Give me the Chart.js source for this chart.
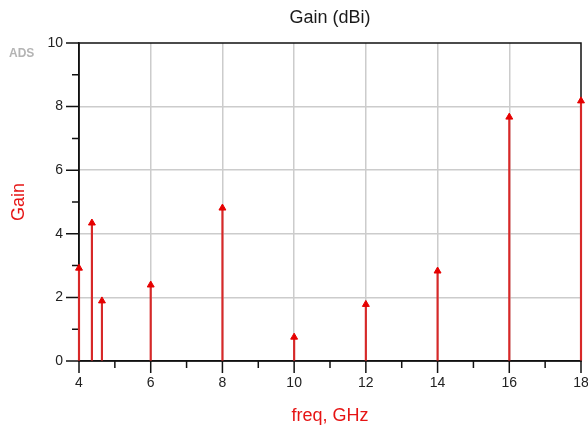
<!DOCTYPE html>
<html>
<head>
<meta charset="utf-8">
<script src="https://cdn.jsdelivr.net/npm/chart.js@4/dist/chart.umd.min.js"></script>
<style>
  html, body { margin: 0; padding: 0; background: #ffffff; }
  #wrap { width: 588px; height: 432px; }
</style>
</head>
<body>
<div id="wrap"><canvas id="c" width="588" height="432"></canvas></div>
<script>
const freqs = [4.0, 4.36, 4.64, 6, 8, 10, 12, 14, 16, 18];
const gains = [2.92, 4.34, 1.89, 2.39, 4.81, 0.75, 1.78, 2.83, 7.67, 8.18];
const xTickLabels = [4, 6, 8, 10, 12, 14, 16, 18];
const yTickLabels = [0, 2, 4, 6, 8, 10];
const chartTitle = 'Gain (dBi)';
const xTitle = 'freq, GHz';
const yTitle = 'Gain';
const watermark = 'ADS';

const FONT = '"Liberation Sans", Arial, sans-serif';
const RED = 'rgb(230,0,0)';
const STEM = 'rgb(215,40,40)';

const points = freqs.map((f, i) => ({ x: f, y: gains[i] }));

const isMajor = (v, list) => list.some(t => Math.abs(t - v) < 1e-6);

const decor = {
  id: 'decor',
  beforeDatasetsDraw(chart) {
    const { ctx, chartArea: a, scales: { x, y } } = chart;
    ctx.save();
    ctx.strokeStyle = '#111';
    ctx.lineWidth = 1.5;
    // frame
    ctx.strokeRect(a.left, a.top, a.right - a.left, a.bottom - a.top);
    // ticks
    ctx.beginPath();
    x.ticks.forEach(t => {
      const px = x.getPixelForValue(t.value);
      const len = isMajor(t.value, xTickLabels) ? 12 : 7;
      ctx.moveTo(px, a.bottom);
      ctx.lineTo(px, a.bottom + len);
    });
    y.ticks.forEach(t => {
      const py = y.getPixelForValue(t.value);
      const len = isMajor(t.value, yTickLabels) ? 13 : 7;
      ctx.moveTo(a.left, py);
      ctx.lineTo(a.left - len, py);
    });
    ctx.stroke();
    // chart title centred over the plot area
    ctx.font = '18px ' + FONT;
    ctx.fillStyle = '#1a1a1a';
    ctx.textAlign = 'center';
    ctx.textBaseline = 'middle';
    ctx.fillText(chartTitle, (a.left + a.right) / 2, 18);
    ctx.restore();
  },
  afterDraw(chart) {
    const { ctx } = chart;
    ctx.save();
    ctx.font = 'bold 12px ' + FONT;
    ctx.fillStyle = '#b4b4b4';
    ctx.textBaseline = 'middle';
    ctx.textAlign = 'left';
    ctx.fillText(watermark, 9, 54);
    ctx.restore();
  }
};

new Chart(document.getElementById('c'), {
  type: 'scatter',
  data: {
    datasets: [
      {
        type: 'bar',
        data: points,
        backgroundColor: STEM,
        borderWidth: 0,
        barThickness: 1.5,
        clip: false,
        order: 2
      },
      {
        type: 'scatter',
        data: points,
        pointStyle: 'triangle',
        pointRadius: 4,
        pointBackgroundColor: RED,
        pointBorderColor: RED,
        pointBorderWidth: 1,
        showLine: false,
        clip: false,
        order: 1
      }
    ]
  },
  options: {
    responsive: false,
    animation: false,
    layout: { padding: { left: 0, right: 7, top: 43, bottom: 0 } },
    plugins: {
      legend: { display: false },
      tooltip: { enabled: false },
      title: { display: false }
    },
    scales: {
      x: {
        type: 'linear',
        min: 4, max: 18,
        offset: false,
        afterFit(s) { s.height = 71; s.paddingRight = 0; s.paddingLeft = 0; },
        ticks: {
          stepSize: 1,
          autoSkip: false,
          maxRotation: 0,
          padding: 14,
          color: '#222',
          font: { family: FONT, size: 14 },
          callback: v => isMajor(v, xTickLabels) ? String(v) : ''
        },
        grid: {
          offset: false,
          drawTicks: false,
          lineWidth: 1.5,
          color: c => (c.tick && isMajor(c.tick.value, xTickLabels) && c.tick.value !== 4 && c.tick.value !== 18) ? '#cccccc' : 'rgba(0,0,0,0)'
        },
        border: { display: true, color: '#111', width: 1.5 },
        title: {
          display: true,
          text: xTitle,
          color: 'rgb(230,20,20)',
          font: { family: FONT, size: 18 },
          padding: { top: 0, bottom: 5 }
        }
      },
      y: {
        type: 'linear',
        min: 0, max: 10,
        afterFit(s) { s.width = 79; s.paddingTop = 0; },
        ticks: {
          stepSize: 1,
          autoSkip: false,
          padding: 16,
          color: '#222',
          font: { family: FONT, size: 14 },
          callback: v => isMajor(v, yTickLabels) ? String(v) : ''
        },
        grid: {
          drawTicks: false,
          lineWidth: 1.5,
          color: c => (c.tick && isMajor(c.tick.value, yTickLabels) && c.tick.value !== 0 && c.tick.value !== 10) ? '#cccccc' : 'rgba(0,0,0,0)'
        },
        border: { display: true, color: '#111', width: 1.5 },
        title: {
          display: true,
          text: yTitle,
          color: 'rgb(230,20,20)',
          font: { family: FONT, size: 18 },
          padding: { top: 8, bottom: 0 }
        }
      }
    }
  },
  plugins: [decor]
});
</script>
</body>
</html>
